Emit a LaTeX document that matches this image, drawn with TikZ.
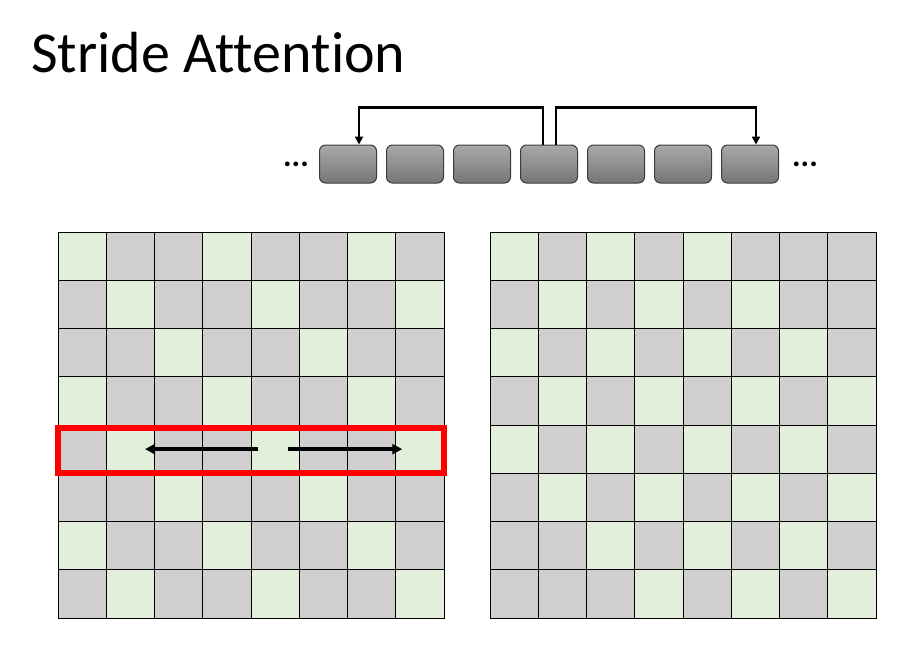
\documentclass[tikz,border=0pt]{standalone}
\usepackage{fontspec}
\setmainfont{Carlito}[Ligatures=NoCommon]
\usetikzlibrary{arrows.meta}
\definecolor{cellgray}{HTML}{D0CECE}
\definecolor{cellgreen}{HTML}{E2EFDA}
\definecolor{tokentop}{HTML}{A9A9A9}
\definecolor{tokenbot}{HTML}{767676}
\definecolor{tokenedge}{HTML}{3C3C3C}
\tikzset{
  token/.style={shape=rectangle, rounded corners=6pt, draw=tokenedge, line width=1pt,
    top color=tokentop, bottom color=tokenbot, minimum width=57pt, minimum height=38pt},
  cell/.style={shape=rectangle, draw=black, line width=1pt, minimum size=48.25pt, inner sep=0pt},
  dots/.style={inner sep=0pt, font=\fontsize{32}{34}\selectfont\bfseries},
  link/.style={line width=2.6pt, -{Triangle[length=8pt,width=8pt]}},
  sweep/.style={line width=3.4pt, -{Triangle[length=10pt,width=10pt]}},
  rowbox/.style={draw=red, line width=6pt},
}
\begin{document}
\begin{tikzpicture}[x=1pt,y=-1pt]
    \fill[white] (0,0) rectangle (910,646);
    \useasboundingbox (0,0) rectangle (910,646);

    \node[anchor=base west, inner sep=0pt, font=\fontsize{58}{60}\selectfont] (title) at (31,72) {Stride Attention};

    % token sequence
    \foreach \i in {1,...,7}
        \node[token] (t\i) at ({348+67*(\i-1)},164) {};
    \node[dots] (dl) at (296,164) {...};
    \node[dots] (dr) at (805,164) {...};

    \draw[link] ([xshift=-6pt]t4.north) -- ++(0,-37) -| ([xshift=11pt]t1.north);
    \draw[link] ([xshift=7pt]t4.north) -- ++(0,-37) -| ([xshift=6pt]t7.north);

    % left grid
    \foreach \r in {0,...,7}
        \foreach \c in {0,...,7} {
            \pgfmathtruncatemacro\isg{mod(\c-\r+24,3)==0}
            \ifnum\isg=1 \def\fillc{cellgreen}\else\def\fillc{cellgray}\fi
            \node[cell, fill=\fillc] (L-\r-\c) at ({82.125+48.25*\c},{256.125+48.25*\r}) {};
        }

    % right grid
    \foreach \r in {0,...,7}
        \foreach \c in {0,...,7} {
            \pgfmathtruncatemacro\isg{and(mod(\r+\c,2)==0, abs(\r-\c)<=4)}
            \ifnum\isg=1 \def\fillc{cellgreen}\else\def\fillc{cellgray}\fi
            \node[cell, fill=\fillc] (R-\r-\c) at ({514.125+48.25*\c},{256.125+48.25*\r}) {};
        }

    \draw[rowbox] ([yshift=-3pt,xshift=0.5pt]L-4-0.north west) rectangle ([xshift=-1pt,yshift=0.5pt]L-4-7.south east);
    \draw[sweep] ([xshift=7pt]L-4-4.west) -- ([xshift=-10pt]L-4-1.east);
    \draw[sweep] ([xshift=-11.5pt]L-4-4.east) -- ([xshift=7pt]L-4-7.west);
\end{tikzpicture}
\end{document}
